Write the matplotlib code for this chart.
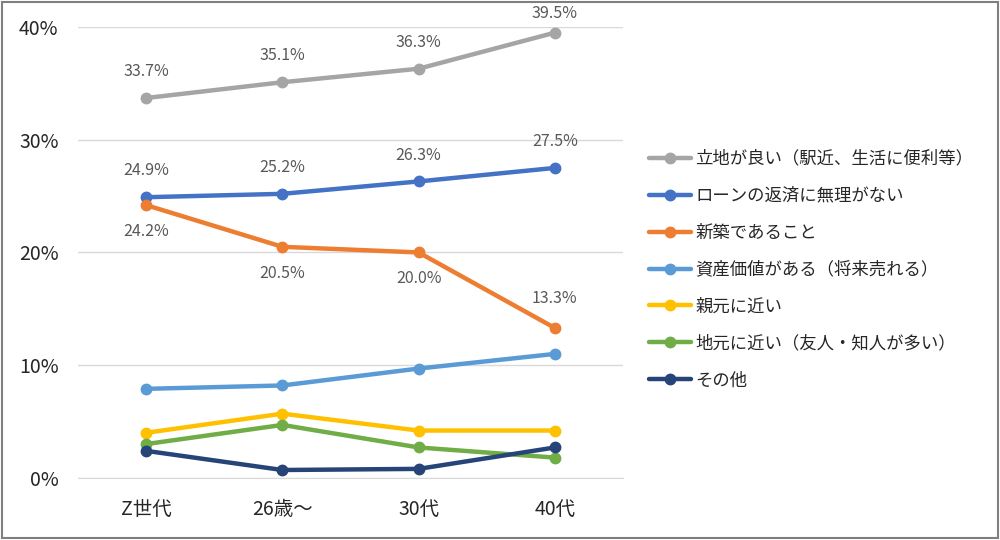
import matplotlib.pyplot as plt
from matplotlib.patches import Rectangle

plt.rcParams['font.family'] = ['Noto Sans CJK JP', 'DejaVu Sans']

# データ
categories = ["Z世代", "26歳～", "30代", "40代"]
series_names = [
    "立地が良い（駅近、生活に便利等）",
    "ローンの返済に無理がない",
    "新築であること",
    "資産価値がある（将来売れる）",
    "親元に近い",
    "地元に近い（友人・知人が多い）",
    "その他",
]
rikchi = [33.7, 35.1, 36.3, 39.5]
loan = [24.9, 25.2, 26.3, 27.5]
shinchiku = [24.2, 20.5, 20.0, 13.3]
shisan = [7.9, 8.2, 9.7, 11.0]
oyamoto = [4.0, 5.7, 4.2, 4.2]
jimoto = [3.0, 4.7, 2.7, 1.8]
sonota = [2.4, 0.7, 0.8, 2.7]

colors = ["#A5A5A5", "#4472C4", "#ED7D31", "#5B9BD5", "#FFC000", "#70AD47", "#264478"]
all_series = [rikchi, loan, shinchiku, shisan, oyamoto, jimoto, sonota]

fig = plt.figure(figsize=(10, 5.4), dpi=100)
ax = fig.add_axes([0.078, 0.115, 0.545, 0.835])

x = range(len(categories))
for name, vals, c in zip(series_names, all_series, colors):
    ax.plot(x, vals, color=c, linewidth=3.2, marker="o", markersize=7.5,
            label=name, clip_on=False, solid_capstyle="round")

# データラベル（ポイント単位のずれ、正=上）
label_offsets = {
    0: [19, 19, 19, 14],
    1: [19, 19, 19, 19],
    2: [-19, -19, -19, 21],
}
for idx, offs in label_offsets.items():
    for i, (v, d) in enumerate(zip(all_series[idx], offs)):
        ax.annotate(f"{v:.1f}%", (i, v), xytext=(0, d), textcoords="offset points",
                    ha="center", va="center", fontsize=11.5, color="#595959")

ax.set_xlim(-0.5, 3.5)
ax.set_ylim(0, 40)
ax.set_yticks([0, 10, 20, 30, 40])
ax.set_yticklabels(["0%", "10%", "20%", "30%", "40%"])
ax.set_xticks(list(x))
ax.set_xticklabels(categories)
ax.tick_params(axis="both", length=0, labelsize=14, colors="#262626")
ax.tick_params(axis="y", pad=14)
ax.tick_params(axis="x", pad=15)
ax.grid(axis="y", color="#D9D9D9", linewidth=1)
ax.set_axisbelow(True)
for s in ["top", "right", "left"]:
    ax.spines[s].set_visible(False)
ax.spines["bottom"].set_color("#D9D9D9")

leg = ax.legend(loc="upper left", bbox_to_anchor=(1.035, 0.743), frameon=False,
                fontsize=12.5, handlelength=2.4, labelspacing=1.09, handletextpad=0.25,
                borderaxespad=0)
for t in leg.get_texts():
    t.set_color("#262626")

fig.patches.append(Rectangle((0.002, 0.003), 0.996, 0.994, transform=fig.transFigure,
                             fill=False, edgecolor="#7F7F7F", linewidth=1.5))

fig.savefig("out.png", dpi=100)
